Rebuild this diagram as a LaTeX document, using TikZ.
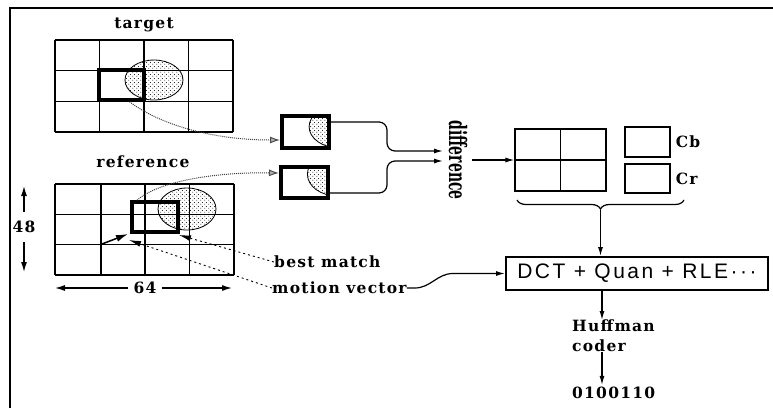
\documentclass[tikz,border=0pt]{standalone}
\usepackage{fontspec}
\usepackage{graphicx}
\newfontfamily\lblfont{DejaVu Serif}[LetterSpace=8]
\newfontfamily\difffont{DejaVu Serif}
\newfontfamily\dctfont{Liberation Sans}[LetterSpace=12]
\usetikzlibrary{arrows.meta,positioning,calc,patterns,decorations.pathreplacing}

% sparse stipple for the moving object
\pgfdeclarepatternformonly{sparsedots}{\pgfpointorigin}{\pgfpoint{4pt}{4pt}}{\pgfpoint{4pt}{4pt}}{%
  \pgfpathcircle{\pgfpoint{1pt}{1pt}}{0.6pt}%
  \pgfpathcircle{\pgfpoint{3pt}{3pt}}{0.6pt}%
  \pgfusepath{fill}}

\begin{document}
\begin{tikzpicture}[x=1pt, y=-1pt,
  every node/.style={font=\lblfont\bfseries\fontsize{15.5}{20}\selectfont, inner sep=0pt},
  gridln/.style={line width=1.2pt},
  thickbox/.style={draw, line width=3.5pt, inner sep=0pt},
  blkbox/.style={draw, line width=4pt, inner sep=0pt},
  stipple/.style={pattern=sparsedots},
  arr/.style={line width=1.2pt, -{Latex[length=9pt,width=5pt]}},
  dimarr/.style={line width=1.2pt, -{Latex[length=10pt,width=6pt]}},
  dotarr/.style={densely dotted, line width=1pt, gray!50!black,
                 -{Latex[length=10pt,width=7pt,fill=gray!60,color=gray!60!black]}},
  dasharr/.style={dash pattern=on 2pt off 3pt, line width=0.9pt,
                  -{Latex[length=12pt,width=6pt]}}]

%% ── Page: 773 x 408 px, 1pt = 1px, y grows downwards ─────────────────────────
\useasboundingbox (0,0) rectangle (773,408);
\draw[line width=2.5pt] (10,408) -- (10,8) -- (773,8);

%% ── Target frame ─────────────────────────────────────────────────────────────
\node (tgtlbl) at (144,25) {target};
\foreach \gx in {55,99.5,144,188.5,233}
  \draw[gridln] (\gx,40) -- (\gx,132);
\foreach \gy in {40,70.7,101.3,132}
  \draw[gridln] (55,\gy) -- (233,\gy);
\fill[stipple] (154,80) ellipse [x radius=29, y radius=20];
\draw[line width=0.8pt] (154,80) ellipse [x radius=29, y radius=20];
\node[thickbox, minimum width=45, minimum height=30] (tbox) at (121.5,85) {};

%% ── Reference frame ──────────────────────────────────────────────────────────
\node (reflbl) at (143,162) {reference};
\foreach \gx in {55,101,145,189.5,234}
  \draw[gridln] (\gx,184) -- (\gx,275);
\foreach \gy in {184,214.3,244.7,275}
  \draw[gridln] (55,\gy) -- (234,\gy);
\fill[stipple] (187,209) ellipse [x radius=29, y radius=21];
\draw[line width=0.8pt] (187,209) ellipse [x radius=29, y radius=21];
\node[thickbox, minimum width=46, minimum height=30] (rbox) at (155,217) {};

%% motion vector inside the reference frame
\coordinate (mvfrom) at (102,244);
\coordinate (mvto)   at (128,234);
\draw[line width=1.5pt, -{Latex[length=12pt,width=7pt]}] (mvfrom) -- (mvto);

%% ── Size marks ───────────────────────────────────────────────────────────────
\node[inner ysep=9pt] (h48) at (24,227) {48};
\coordinate (t48) at (24,186);
\coordinate (b48) at (24,272);
\draw[dimarr] (h48.north) -- (t48);
\draw[dimarr] (h48.south) -- (b48);

\node[inner xsep=5pt] (w64) at (145,288) {64};
\coordinate (l64) at (55,288);
\coordinate (r64) at (232,288);
\draw[dimarr] (w64.west) -- (l64);
\draw[dimarr] (w64.east) -- (r64);

%% ── Extracted blocks ─────────────────────────────────────────────────────────
\begin{scope}
  \clip (282,116) rectangle (329,148);
  \fill[stipple] (339.4,126.7) ellipse [x radius=30.3, y radius=21.3];
  \draw[line width=0.8pt] (339.4,126.7) ellipse [x radius=30.3, y radius=21.3];
\end{scope}
\begin{scope}
  \clip (281,167) rectangle (328,198);
  \fill[stipple] (337,174.2) ellipse [x radius=29.6, y radius=21.7];
  \draw[line width=0.8pt] (337,174.2) ellipse [x radius=29.6, y radius=21.7];
\end{scope}
\node[blkbox, minimum width=47, minimum height=32] (blkT) at (305.5,132) {};
\node[blkbox, minimum width=47, minimum height=31] (blkR) at (304.5,182.5) {};

\draw[dotarr] ([xshift=8pt]tbox.south) .. controls (165,128) and (220,140) .. ([yshift=-8pt]blkT.west);
\draw[dotarr] ([xshift=-18pt]rbox.north) .. controls (160,180) and (220,172) .. ([yshift=9.5pt]blkR.west);

%% ── Difference ───────────────────────────────────────────────────────────────
\node[rotate=-90, font=\difffont\bfseries\fontsize{24}{24}\selectfont] (diff) at (458,160)
  {\scalebox{0.58}[1]{difference}};
\coordinate (dinA) at (443,151);
\coordinate (dinB) at (443,161);
\coordinate (dout) at (472,160);
\draw[arr, rounded corners=8pt] ([yshift=10pt]blkT.east) -- (387,122) -- (387,151) -- (dinA);
\draw[arr, rounded corners=8pt] ([yshift=-10.5pt]blkR.east) -- (387,193) -- (387,161) -- (dinB);

%% ── Macroblock: Y + Cb + Cr ──────────────────────────────────────────────────
\node[draw, gridln, minimum width=91, minimum height=62] (luma) at (560.5,160) {};
\draw[gridln] (luma.north) -- (luma.south);
\draw[gridln] (luma.west) -- (luma.east);
\draw[arr] (luma.west -| dout) -- (luma.west);

\node[draw, gridln, minimum width=45, minimum height=30] (cb) at (647.5,142) {};
\node[right=5pt of cb] (cblbl) {Cb};
\node[draw, gridln, minimum width=45, minimum height=29] (cr) at (647.5,178.5) {};
\node[right=5pt of cr] (crlbl) {Cr};

\draw[line width=1.2pt, decorate, decoration={brace, mirror, amplitude=9pt}]
  (517,200) -- (684,200);
\coordinate (brtip) at (600.5,210);

%% ── Coding chain ─────────────────────────────────────────────────────────────
\node[draw, line width=2pt, minimum width=262, minimum height=33,
      font=\dctfont\fontsize{21}{21}\selectfont] (dct) at (637,273.5)
  {DCT + Quan + RLE···};
\draw[arr] (brtip) -- (brtip |- dct.north);

\coordinate (hx) at (602,0);
\node[align=left, anchor=north west] (huff) at (572,320) {Huffman\\coder};
\node[anchor=west] (code) at (572,393) {0100110};
\draw[arr] (dct.south -| hx) -- (huff.north -| hx);
\draw[arr] (huff.south -| hx) -- ([yshift=2pt]code.north -| hx);

%% ── Callouts ─────────────────────────────────────────────────────────────────
\node[anchor=west] (bm) at (274,262) {best match};
\node[anchor=west] (mv) at (272,288) {motion vector};
\coordinate (bmtip) at (179,235);
\coordinate (mvtip) at (129,240);
\draw[dasharr] (bm.west) -- (bmtip);
\draw[dasharr] (mv.west) -- (mvtip);
\draw[arr] (mv.east) -- ++(8,0) to[out=0,in=180] ($(dct.west)+(-52,0)$) -- (dct.west);

\end{tikzpicture}
\end{document}
